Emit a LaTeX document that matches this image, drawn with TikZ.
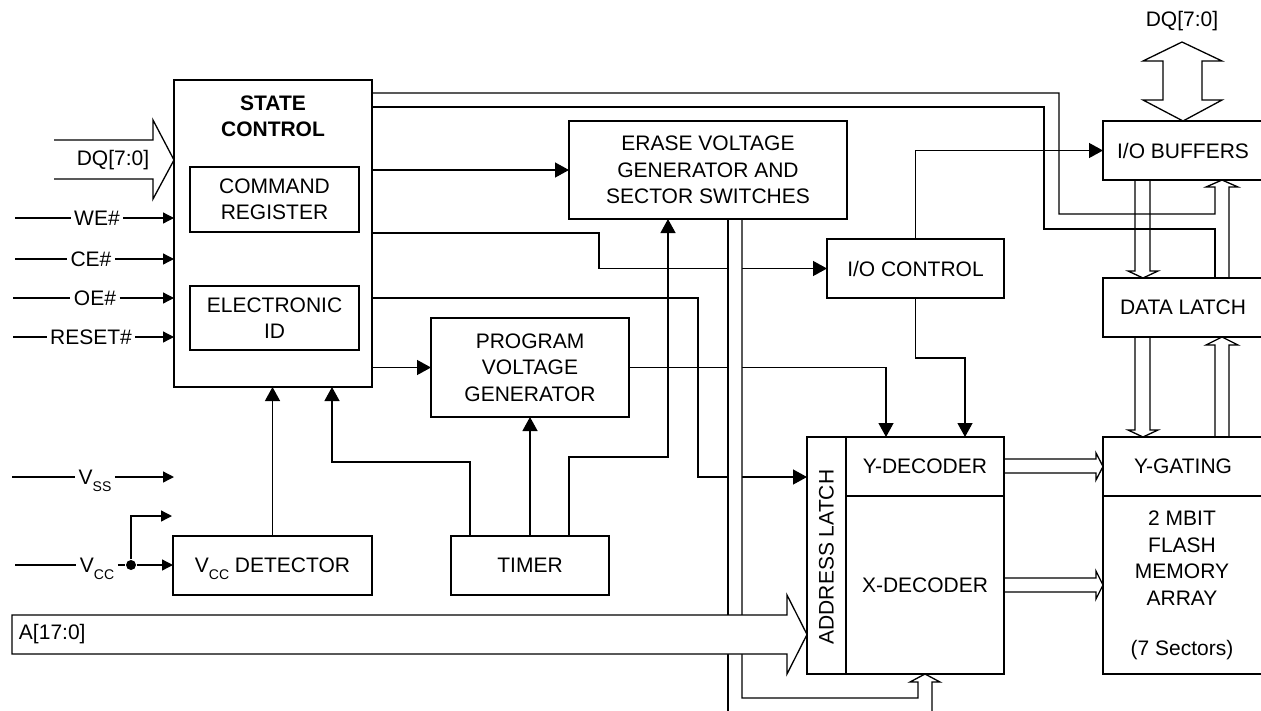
\documentclass[tikz,border=0pt]{standalone}
\usepackage{fontspec}
\setmainfont{Liberation Sans}
\usetikzlibrary{arrows.meta,positioning}
\newcommand\lowsub[1]{\raisebox{-7pt}[0pt][0pt]{\fontsize{14}{14}\selectfont #1}}

\begin{document}
\begin{tikzpicture}[x=1pt,y=-1pt,line width=1.3pt,
    font=\fontsize{21}{26.5}\selectfont,
    block/.style={draw,inner sep=0pt,outer sep=0pt,align=center,anchor=north west},
    sig/.style={inner xsep=3pt,inner ysep=0pt},
    arrow/.style={-{Triangle[length=14pt,width=15pt]}},
    sarrow/.style={-{Triangle[length=11pt,width=11pt]}},
    bus/.style={draw,fill=white}]
    \useasboundingbox (0,0) rectangle (1261,710);
    \clip (0,0) rectangle (1261,710);
    \node[block,minimum width=198pt,minimum height=307pt] (sc) at (174,80) {};
    \node[font=\fontsize{21}{26.5}\selectfont\bfseries,align=center] (sctitle) at (273,116.5) {STATE\\CONTROL};
    \node[block,minimum width=169pt,minimum height=65pt] (cmd) at (190,167) {COMMAND\\REGISTER};
    \node[block,minimum width=169pt,minimum height=64pt] (eid) at (190,286) {ELECTRONIC\\ID};
    \node[block,minimum width=278pt,minimum height=98pt] (erase) at (569,121) {ERASE VOLTAGE\\GENERATOR AND\\SECTOR SWITCHES};
    \node[block,minimum width=198pt,minimum height=99pt] (pvg) at (431,318) {PROGRAM\\VOLTAGE\\GENERATOR};
    \node[block,minimum width=158pt,minimum height=59pt] (timer) at (451,536) {TIMER};
    \node[block,minimum width=199pt,minimum height=59pt] (vccd) at (173,536) {V\lowsub{CC} DETECTOR};
    \node[block,minimum width=177pt,minimum height=59pt] (ioc) at (827,239) {I/O CONTROL};
    \node[block,minimum width=160pt,minimum height=59pt] (iob) at (1103,121) {I/O BUFFERS};
    \node[block,minimum width=160pt,minimum height=59pt] (dlat) at (1103,278) {DATA LATCH};
    \node[block,minimum width=160pt,minimum height=59pt] (ygate) at (1103,437) {Y-GATING};
    \node[block,minimum width=160pt,minimum height=178pt] (mem) at (1103,496) {};
    \node[align=center] (memtxt) at (1182,558) {2 MBIT\\FLASH\\MEMORY\\ARRAY};
    \node (sect) at (1182,650) {(7 Sectors)};
    \node[block,minimum width=39pt,minimum height=237pt] (alat) at (807,437) {};
    \node[rotate=90] (alattxt) at (826.5,557) {ADDRESS LATCH};
    \node[block,minimum width=158pt,minimum height=59pt] (ydec) at (846,437) {Y-DECODER};
    \node[block,minimum width=158pt,minimum height=178pt] (xdec) at (846,496) {X-DECODER};
    \node[sig] (dqin) at (113,160) {DQ[7:0]};
    \draw (54,140) -- (153,140) -- (153,120) -- (sc.west |- dqin) -- (153,199) -- (153,179) -- (54,179);
    \node[sig] (we) at (97,218) {WE\#};
    \node[sig] (ce) at (91,259) {CE\#};
    \node[sig] (oe) at (95,298) {OE\#};
    \node[sig] (rst) at (91,337) {RESET\#};
    \draw (15,218) -- (we); \draw[sarrow] (we) -- (we -| sc.west);
    \draw (15,259) -- (ce); \draw[sarrow] (ce) -- (ce -| sc.west);
    \draw (13,298) -- (oe); \draw[sarrow] (oe) -- (oe -| sc.west);
    \draw (13,337) -- (rst); \draw[sarrow] (rst) -- (rst -| sc.west);
    \node[sig] (vss) at (95,477) {V\lowsub{SS}};
    \node[sig] (vcc) at (97,565) {V\lowsub{CC}};
    \node[circle,fill,inner sep=0pt,minimum size=10pt] (jn) at (131,565) {};
    \coordinate (vccout) at (172,516);
    \draw (12,477) -- (vss); \draw[sarrow] (vss) -- (vss -| sc.west);
    \draw (15,565) -- (vcc) -- (jn);
    \draw[sarrow] (jn) -- (jn -| vccd.west);
    \draw[sarrow] (jn) |- (vccout);
    \draw (sc.east |- 0,93) -- (1059,93) -- (1059,214) -- (1215,214) -- (1215,187) -- (1206,187) -- (iob.south -| 1222,0) -- (1238,187) -- (1229,187) -- (1229,0 |- dlat.north);
    \draw (sc.east |- 0,107) -- (1044,107) -- (1044,229) -- (1215,229) -- (1215,0 |- dlat.north);
    \draw[arrow] (sc.east |- erase.west) -- (erase.west);
    \draw[arrow] (sc.east |- 0,233) -- (599,233) |- (ioc.west);
    \draw[arrow] (sc.east |- 0,298) -- (698,298) |- (alat.west |- 0,477);
    \draw[arrow] (sc.east |- pvg.west) -- (pvg.west);
    \draw[arrow] (pvg.east) -| (886,0 |- ydec.north);
    \draw[arrow] (timer) -- (pvg);
    \draw[arrow] (470,0 |- timer.north) |- (332,462) -- (332,0 |- sc.south);
    \draw[arrow] (569,0 |- timer.north) |- (668,457) -- (668,0 |- erase.south);
    \draw[arrow] (vccd.north) -- (vccd.north |- sc.south);
    \draw[arrow] (ioc.north) |- (iob.west);
    \draw[arrow] (ioc.south) |- (965,358) -- (965,0 |- ydec.north);
    \fill[white] (728,220) -- (742,220) -- (742,698) -- (918,698) -- (918,682) -- (910,682) -- (925,675) -- (940,682) -- (932,682) -- (932,715) -- (728,715) -- cycle;
    \draw (728,0 |- erase.south) -- (728,715);
    \draw (742,0 |- erase.south) -- (742,698) -- (918,698) -- (918,682) -- (910,682) -- (925,0 |- xdec.south) -- (940,682) -- (932,682) -- (932,715);
    \draw[bus] (12,615) -- (787,615) -- (787,595) -- (alat.west |- 0,634.5) -- (787,674) -- (787,654) -- (12,654) -- cycle;
    \node[anchor=west] (abus) at (15,634.5) {A[17:0]};
    \node (dqout) at (1182,21) {DQ[7:0]};
    \draw (1163,61) -- (1143,61) -- (1182,42) -- (1222,61) -- (1202,61) -- (1202,100) -- (1222,100) -- (iob.north) -- (1143,100) -- (1163,100) -- cycle;
    \draw (1135,0 |- iob.south) -- (1135,271) -- (1128,271) -- (1143,0 |- dlat.north) -- (1158,271) -- (1150,271) -- (1150,0 |- iob.south);
    \draw (1135,0 |- dlat.south) -- (1135,430) -- (1128,430) -- (1143,0 |- ygate.north) -- (1158,430) -- (1150,430) -- (1150,0 |- dlat.south);
    \draw (1215,0 |- ygate.north) -- (1215,345) -- (1206,345) -- (1222,0 |- dlat.south) -- (1238,345) -- (1229,345) -- (1229,0 |- ygate.north);
    \draw (ydec.east |- 0,459) -- (1096,459) -- (1096,453) -- (ygate.west) -- (1096,480) -- (1096,473) -- (ydec.east |- 0,473);
    \draw (xdec.east |- 0,578) -- (1096,578) -- (1096,571) -- (mem.west |- 0,585) -- (1096,599) -- (1096,592) -- (xdec.east |- 0,592);
\end{tikzpicture}
\end{document}
